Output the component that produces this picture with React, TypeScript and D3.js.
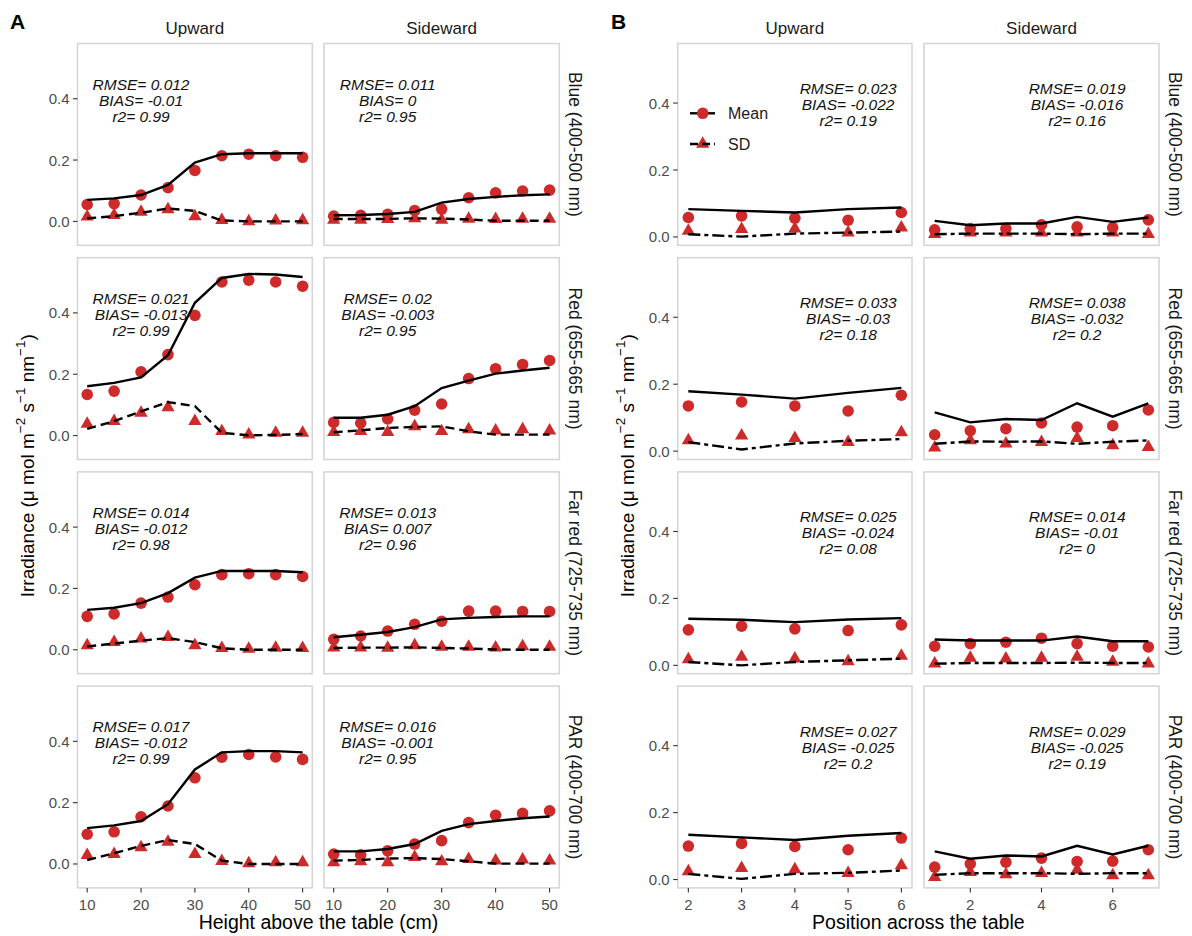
import React from 'react';
import * as d3 from 'd3';

// x values
const heights = [10, 15, 20, 25, 30, 35, 40, 45, 50];
const posUp = [2, 3, 4, 5, 6];
const posSide = [1, 2, 3, 4, 5, 6, 7];

const bands = ['Blue (400-500 nm)', 'Red (655-665 nm)', 'Far red (725-735 nm)', 'PAR (400-700 nm)'];
const directions = ['Upward', 'Sideward'];

// A: vertical profiles (rows = Blue, Red, Far red, PAR)
const aUpMeanObs = [
  [0.055, 0.058, 0.086, 0.11, 0.166, 0.214, 0.219, 0.214, 0.209],
  [0.134, 0.145, 0.208, 0.264, 0.392, 0.501, 0.507, 0.501, 0.487],
  [0.109, 0.117, 0.152, 0.172, 0.212, 0.245, 0.248, 0.245, 0.239],
  [0.097, 0.105, 0.154, 0.189, 0.281, 0.348, 0.357, 0.349, 0.341],
];
const aUpMeanSim = [
  [0.07, 0.075, 0.086, 0.119, 0.192, 0.219, 0.222, 0.222, 0.222],
  [0.161, 0.172, 0.19, 0.262, 0.433, 0.514, 0.527, 0.525, 0.517],
  [0.13, 0.137, 0.152, 0.185, 0.235, 0.257, 0.257, 0.257, 0.253],
  [0.117, 0.126, 0.14, 0.195, 0.308, 0.364, 0.368, 0.368, 0.364],
];
const aUpSdObs = [
  [0.015, 0.02, 0.031, 0.039, 0.016, 0.004, 0.0, 0.002, 0.003],
  [0.038, 0.047, 0.074, 0.092, 0.047, 0.014, 0.003, 0.009, 0.009],
  [0.014, 0.025, 0.036, 0.041, 0.014, 0.005, 0.003, 0.006, 0.005],
  [0.029, 0.032, 0.054, 0.072, 0.032, 0.009, 0.002, 0.005, 0.005],
];
const aUpSdSim = [
  [0.01, 0.017, 0.028, 0.042, 0.034, 0.003, 0.0, 0.0, 0.0],
  [0.022, 0.047, 0.079, 0.109, 0.096, 0.009, 0.001, 0.002, 0.005],
  [0.011, 0.02, 0.03, 0.038, 0.025, 0.005, 0.0, 0.0, 0.0],
  [0.013, 0.035, 0.059, 0.078, 0.065, 0.011, 0.0, 0.0, 0.0],
];
const aSideMeanObs = [
  [0.017, 0.02, 0.023, 0.035, 0.04, 0.077, 0.093, 0.099, 0.102],
  [0.043, 0.041, 0.054, 0.083, 0.103, 0.186, 0.218, 0.232, 0.245],
  [0.034, 0.045, 0.061, 0.083, 0.093, 0.126, 0.126, 0.125, 0.125],
  [0.032, 0.03, 0.043, 0.065, 0.076, 0.135, 0.159, 0.165, 0.173],
];
const aSideMeanSim = [
  [0.02, 0.021, 0.024, 0.031, 0.061, 0.073, 0.08, 0.085, 0.088],
  [0.058, 0.058, 0.068, 0.096, 0.155, 0.179, 0.202, 0.212, 0.221],
  [0.041, 0.049, 0.058, 0.074, 0.099, 0.104, 0.107, 0.109, 0.109],
  [0.041, 0.041, 0.049, 0.065, 0.108, 0.13, 0.14, 0.149, 0.155],
];
const aSideSdObs = [
  [0.005, 0.005, 0.007, 0.01, 0.005, 0.008, 0.007, 0.008, 0.008],
  [0.011, 0.014, 0.011, 0.03, 0.014, 0.02, 0.016, 0.02, 0.016],
  [0.007, 0.007, 0.006, 0.014, 0.009, 0.009, 0.007, 0.011, 0.009],
  [0.005, 0.008, 0.005, 0.022, 0.008, 0.016, 0.011, 0.014, 0.011],
];
const aSideSdSim = [
  [0.008, 0.008, 0.008, 0.01, 0.009, 0.006, 0.002, 0.002, 0.002],
  [0.011, 0.017, 0.025, 0.028, 0.03, 0.014, 0.003, 0.003, 0.003],
  [0.006, 0.007, 0.007, 0.008, 0.006, 0.004, 0.001, 0.0, 0.0],
  [0.011, 0.013, 0.018, 0.019, 0.016, 0.009, 0.001, 0.001, 0.001],
];

// B: horizontal profiles
const bUpMeanObs = [
  [0.058, 0.063, 0.056, 0.05, 0.073],
  [0.135, 0.147, 0.135, 0.12, 0.167],
  [0.106, 0.117, 0.109, 0.104, 0.121],
  [0.1, 0.108, 0.099, 0.089, 0.124],
];
const bUpMeanSim = [
  [0.083, 0.078, 0.073, 0.083, 0.088],
  [0.179, 0.169, 0.157, 0.174, 0.189],
  [0.139, 0.136, 0.129, 0.137, 0.141],
  [0.134, 0.126, 0.118, 0.131, 0.139],
];
const bUpSdObs = [
  [0.018, 0.023, 0.025, 0.013, 0.028],
  [0.032, 0.046, 0.039, 0.027, 0.056],
  [0.018, 0.025, 0.02, 0.012, 0.028],
  [0.024, 0.034, 0.03, 0.019, 0.042],
];
const bUpSdSim = [
  [0.008, 0.001, 0.01, 0.013, 0.016],
  [0.027, 0.005, 0.023, 0.031, 0.036],
  [0.01, 0.0, 0.01, 0.015, 0.02],
  [0.017, 0.002, 0.017, 0.02, 0.027],
];
const bSideMeanObs = [
  [0.021, 0.025, 0.025, 0.036, 0.03, 0.028, 0.051],
  [0.049, 0.061, 0.067, 0.084, 0.072, 0.076, 0.123],
  [0.057, 0.065, 0.069, 0.081, 0.065, 0.057, 0.055],
  [0.037, 0.047, 0.052, 0.064, 0.054, 0.055, 0.089],
];
const bSideMeanSim = [
  [0.048, 0.035, 0.04, 0.04, 0.06, 0.045, 0.058],
  [0.116, 0.086, 0.096, 0.093, 0.143, 0.103, 0.143],
  [0.077, 0.074, 0.074, 0.074, 0.086, 0.072, 0.072],
  [0.084, 0.062, 0.072, 0.069, 0.101, 0.075, 0.101],
];
const bSideSdObs = [
  [0.008, 0.013, 0.013, 0.013, 0.013, 0.013, 0.008],
  [0.01, 0.032, 0.022, 0.027, 0.039, 0.017, 0.012],
  [0.005, 0.022, 0.02, 0.022, 0.025, 0.01, 0.005],
  [0.007, 0.022, 0.015, 0.019, 0.029, 0.012, 0.012],
];
const bSideSdSim = [
  [0.008, 0.01, 0.01, 0.01, 0.008, 0.01, 0.01],
  [0.022, 0.029, 0.028, 0.029, 0.022, 0.028, 0.032],
  [0.005, 0.007, 0.007, 0.007, 0.008, 0.007, 0.007],
  [0.014, 0.019, 0.019, 0.019, 0.017, 0.019, 0.019],
];

// goodness-of-fit labels [RMSE, BIAS, r2]
const aUpStats = [['0.012', '-0.01', '0.99'], ['0.021', '-0.013', '0.99'], ['0.014', '-0.012', '0.98'], ['0.017', '-0.012', '0.99']];
const aSideStats = [['0.011', '0', '0.95'], ['0.02', '-0.003', '0.95'], ['0.013', '0.007', '0.96'], ['0.016', '-0.001', '0.95']];
const bUpStats = [['0.023', '-0.022', '0.19'], ['0.033', '-0.03', '0.18'], ['0.025', '-0.024', '0.08'], ['0.027', '-0.025', '0.2']];
const bSideStats = [['0.019', '-0.016', '0.16'], ['0.038', '-0.032', '0.2'], ['0.014', '-0.01', '0'], ['0.029', '-0.025', '0.19']];

const yTicks = [0, 0.2, 0.4];
const RED = '#cf2a2a';
const FONT = 'Liberation Sans, Arial, sans-serif';

const rowTop = [43.5, 257.7, 471.9, 686.1];
const panelH = 201.8;

type PanelProps = {
  left: number; right: number; top: number;
  xDomain: [number, number]; yDomain: [number, number];
  xs: number[]; meanObs: number[]; meanSim: number[]; sdObs: number[]; sdSim: number[];
  stats: string[]; statX: number; dash: string;
  xTicks: number[]; showX: boolean; showY: boolean;
};

function Panel(p: PanelProps) {
  const bottom = p.top + panelH;
  const x = d3.scaleLinear().domain(p.xDomain).range([p.left, p.right]);
  const y = d3.scaleLinear().domain(p.yDomain).range([bottom, p.top]);
  const line = d3.line<number>().x((_, i) => x(p.xs[i])).y(d => y(d));
  const tri = d3.symbol().type(d3.symbolTriangle).size(76)();
  const yc = y(0.4) + 1.5;
  return (
    <g>
      <rect x={p.left} y={p.top} width={p.right - p.left} height={panelH} fill="#fff" />
      {p.meanObs.map((v, i) => (
        <circle key={'c' + i} cx={x(p.xs[i])} cy={y(v)} r={5.8} fill={RED} />
      ))}
      {p.sdObs.map((v, i) => (
        <path key={'t' + i} d={tri as string} transform={`translate(${x(p.xs[i])},${y(v)})`} fill={RED} />
      ))}
      <path d={line(p.meanSim) as string} fill="none" stroke="#000" strokeWidth={2.4} />
      <path d={line(p.sdSim) as string} fill="none" stroke="#000" strokeWidth={2.4} strokeDasharray={p.dash} />
      <g fontFamily={FONT} fontStyle="italic" fontSize={15.5} fill="#111" textAnchor="middle">
        <text x={x(p.statX)} y={yc - 16} dominantBaseline="central">RMSE= {p.stats[0]}</text>
        <text x={x(p.statX)} y={yc} dominantBaseline="central">BIAS= {p.stats[1]}</text>
        <text x={x(p.statX)} y={yc + 16} dominantBaseline="central">r2= {p.stats[2]}</text>
      </g>
      <rect x={p.left} y={p.top} width={p.right - p.left} height={panelH} fill="none" stroke="#d6d6d6" strokeWidth={1.6} />
      {p.showY && yTicks.map(t => (
        <g key={'y' + t}>
          <line x1={p.left - 4.5} x2={p.left} y1={y(t)} y2={y(t)} stroke="#333" strokeWidth={1.1} />
          <text x={p.left - 8} y={y(t)} dominantBaseline="central" textAnchor="end" fontFamily={FONT} fontSize={15} fill="#4d4d4d">{t.toFixed(1)}</text>
        </g>
      ))}
      {p.showX && p.xTicks.map(t => (
        <g key={'x' + t}>
          <line x1={x(t)} x2={x(t)} y1={bottom} y2={bottom + 4.5} stroke="#333" strokeWidth={1.1} />
          <text x={x(t)} y={bottom + 16.5} dominantBaseline="central" textAnchor="middle" fontFamily={FONT} fontSize={15} fill="#4d4d4d">{t}</text>
        </g>
      ))}
    </g>
  );
}

function YTitle({ x, y }: { x: number; y: number }) {
  return (
    <text transform={`translate(${x},${y}) rotate(-90)`} textAnchor="middle" dominantBaseline="central" fontFamily={FONT} fontSize={19} fill="#000">
      Irradiance (μ mol m<tspan dy={-7} fontSize={13.5}>−2</tspan><tspan dy={7}> s</tspan><tspan dy={-7} fontSize={13.5}>−1</tspan><tspan dy={7}> nm</tspan><tspan dy={-7} fontSize={13.5}>−1</tspan><tspan dy={7}>)</tspan>
    </text>
  );
}

export default function App() {
  const aCols = [[77.5, 312.3], [324, 559.3]];
  const bCols = [[677.7, 912], [924, 1159]];
  const aDomain: [number, number] = [-0.078, 0.58];
  const bDomain: [number, number] = [-0.025, 0.578];
  const aDash = '9,5';
  const bDash = '12,4,4,4';
  const panels: JSX.Element[] = [];
  bands.forEach((_, r) => {
    const last = r === bands.length - 1;
    panels.push(
      <Panel key={'au' + r} left={aCols[0][0]} right={aCols[0][1]} top={rowTop[r]} xDomain={[8.2, 51.8]} yDomain={aDomain}
        xs={heights} meanObs={aUpMeanObs[r]} meanSim={aUpMeanSim[r]} sdObs={aUpSdObs[r]} sdSim={aUpSdSim[r]}
        stats={aUpStats[r]} statX={20} dash={aDash} xTicks={[10, 20, 30, 40, 50]} showX={last} showY={true} />,
      <Panel key={'as' + r} left={aCols[1][0]} right={aCols[1][1]} top={rowTop[r]} xDomain={[8.2, 51.8]} yDomain={aDomain}
        xs={heights} meanObs={aSideMeanObs[r]} meanSim={aSideMeanSim[r]} sdObs={aSideSdObs[r]} sdSim={aSideSdSim[r]}
        stats={aSideStats[r]} statX={20} dash={aDash} xTicks={[10, 20, 30, 40, 50]} showX={last} showY={false} />,
      <Panel key={'bu' + r} left={bCols[0][0]} right={bCols[0][1]} top={rowTop[r]} xDomain={[1.8, 6.2]} yDomain={bDomain}
        xs={posUp} meanObs={bUpMeanObs[r]} meanSim={bUpMeanSim[r]} sdObs={bUpSdObs[r]} sdSim={bUpSdSim[r]}
        stats={bUpStats[r]} statX={5} dash={bDash} xTicks={[2, 3, 4, 5, 6]} showX={last} showY={true} />,
      <Panel key={'bs' + r} left={bCols[1][0]} right={bCols[1][1]} top={rowTop[r]} xDomain={[0.7, 7.3]} yDomain={bDomain}
        xs={posSide} meanObs={bSideMeanObs[r]} meanSim={bSideMeanSim[r]} sdObs={bSideSdObs[r]} sdSim={bSideSdSim[r]}
        stats={bSideStats[r]} statX={5} dash={bDash} xTicks={[2, 4, 6]} showX={last} showY={false} />,
    );
  });
  const tri = d3.symbol().type(d3.symbolTriangle).size(76)();
  const midY = (rowTop[0] + rowTop[3] + panelH) / 2;
  return (
    <div style={{ position: 'absolute', left: 0, top: 0 }}>
      <svg width={1192} height={936} style={{ display: 'block', background: '#fff' }}>
        <rect width={1192} height={936} fill="#fff" />
        {panels}
        {/* strip labels */}
        {[aCols, bCols].map((cols, k) => cols.map((c, j) => (
          <text key={`st${k}${j}`} x={(c[0] + c[1]) / 2} y={34} textAnchor="middle" fontFamily={FONT} fontSize={17} fill="#1a1a1a">{directions[j]}</text>
        )))}
        {bands.map((b, r) => (
          <g key={'rs' + r}>
            <text transform={`translate(${aCols[1][1] + 15.5},${rowTop[r] + panelH / 2}) rotate(90)`} textAnchor="middle" dominantBaseline="central" fontFamily={FONT} fontSize={17.5} fill="#1a1a1a">{b}</text>
            <text transform={`translate(${bCols[1][1] + 15.5},${rowTop[r] + panelH / 2}) rotate(90)`} textAnchor="middle" dominantBaseline="central" fontFamily={FONT} fontSize={17.5} fill="#1a1a1a">{b}</text>
          </g>
        ))}
        <YTitle x={27} y={midY} />
        <YTitle x={627} y={midY} />
        <text x={(aCols[0][0] + aCols[1][1]) / 2} y={922} textAnchor="middle" dominantBaseline="central" fontFamily={FONT} fontSize={19.5} fill="#000">Height above the table (cm)</text>
        <text x={(bCols[0][0] + bCols[1][1]) / 2} y={922} textAnchor="middle" dominantBaseline="central" fontFamily={FONT} fontSize={19.5} fill="#000">Position across the table</text>
        <text x={10} y={29} fontFamily={FONT} fontSize={21} fontWeight="bold" fill="#000">A</text>
        <text x={611} y={29} fontFamily={FONT} fontSize={21} fontWeight="bold" fill="#000">B</text>
        {/* legend */}
        <g fontFamily={FONT} fontSize={16} fill="#1a1a1a">
          <line x1={690} x2={715} y1={113.3} y2={113.3} stroke="#000" strokeWidth={2.4} />
          <circle cx={702.7} cy={113.3} r={5.8} fill={RED} />
          <text x={728} y={113.3} dominantBaseline="central">Mean</text>
          <path d={tri as string} transform="translate(702.7,144)" fill={RED} />
          <line x1={690} x2={715} y1={144} y2={144} stroke="#000" strokeWidth={2.4} strokeDasharray="8,4" />
          <text x={728} y={144} dominantBaseline="central">SD</text>
        </g>
      </svg>
    </div>
  );
}
